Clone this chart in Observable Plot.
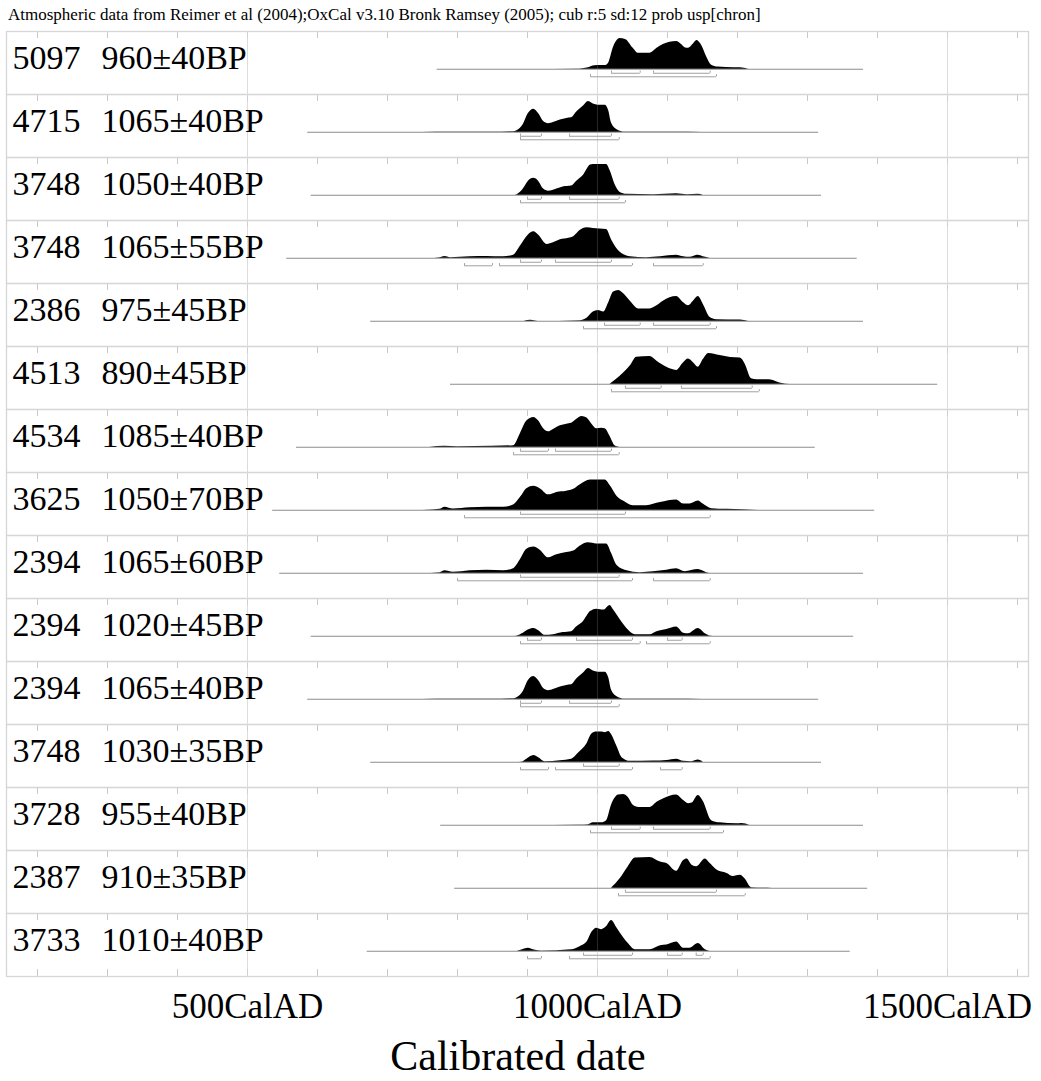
<!DOCTYPE html>
<html><head><meta charset="utf-8">
<script src="https://cdn.jsdelivr.net/npm/d3@7"></script>
<script src="https://cdn.jsdelivr.net/npm/@observablehq/plot@0.6"></script>
<style>
body{margin:0;background:#fff;}
#wrap{position:relative;width:1041px;height:1081px;font-family:"Liberation Serif","Times New Roman",serif;color:#000;}
#title{position:absolute;left:8px;top:6px;font-size:17px;line-height:17px;white-space:nowrap;}
#xlabel{position:absolute;left:0;width:1036px;text-align:center;top:1035px;font-size:42px;line-height:42px;white-space:nowrap;}
</style></head>
<body>
<div id="wrap"><div id="chart"></div>
<div id="title">Atmospheric data from Reimer et al (2004);OxCal v3.10 Bronk Ramsey (2005); cub r:5 sd:12 prob usp[chron]</div>
<div id="xlabel">Calibrated date</div></div>
<script>
// Sample labels
const sampleIds = ["5097","4715","3748","3748","2386","4513","4534","3625","2394","2394","2394","3748","3728","2387","3733"];
const sampleDates = ["960±40BP","1065±40BP","1050±40BP","1065±55BP","975±45BP","890±45BP","1085±40BP","1050±70BP","1065±60BP","1020±45BP","1065±40BP","1030±35BP","955±40BP","910±35BP","1010±40BP"];
// Extent of each calibrated distribution (baseline line), cal AD
const spanStart = [771,586,591,556,676,790,570,536,546,591,586,676,776,796,671];
const spanEnd   = [1380,1316,1320,1371,1380,1486,1311,1396,1380,1366,1316,1320,1380,1386,1361];
// Axis
const axisTicks = [500,1000,1500];
const minorTicks = [200,300,400,500,600,700,800,900,1000,1100,1200,1300,1400,1500,1600];

// Relative probability [year, p] per sample
const prob1 = [[900,0],[975,0.01],[987,0.05],[996,0.11],[1006,0.12],[1012,0.12],[1016,0.2],[1023,0.72],[1032,1.0],[1040,0.97],[1051,0.68],[1058,0.52],[1075,0.52],[1085,0.68],[1094,0.8],[1113,0.9],[1120,0.8],[1125,0.7],[1130,0.68],[1137,0.82],[1142,0.93],[1148,0.8],[1156,0.4],[1163,0.13],[1172,0.07],[1195,0.05],[1204,0.05],[1216,0]];
const prob2 = [[750,0],[790,0.01],[850,0.01],[880,0.02],[885,0.05],[894,0.25],[901,0.6],[909,0.75],[916,0.6],[923,0.35],[930,0.28],[937,0.32],[947,0.4],[956,0.45],[963,0.47],[970,0.65],[980,0.85],[987,1.0],[994,0.92],[1001,0.88],[1011,0.88],[1016,0.7],[1020,0.3],[1028,0.08],[1037,0.01],[1110,0.01],[1150,0]];
const prob3 = [[880,0],[885,0.02],[894,0.2],[901,0.45],[909,0.55],[916,0.45],[923,0.2],[930,0.13],[942,0.2],[951,0.27],[963,0.3],[970,0.45],[980,0.65],[990,0.98],[994,1.0],[1013,1.0],[1018,0.8],[1025,0.35],[1032,0.1],[1042,0.03],[1080,0.02],[1113,0.05],[1128,0.02],[1144,0.03],[1151,0]];
const prob4 = [[760,0],[775,0.02],[782,0.06],[790,0.02],[818,0.05],[842,0.06],[866,0.05],[880,0.1],[890,0.4],[901,0.75],[909,0.86],[916,0.75],[928,0.45],[937,0.5],[947,0.6],[959,0.65],[966,0.7],[975,0.9],[985,0.99],[994,0.97],[1013,0.93],[1020,0.6],[1032,0.2],[1047,0.05],[1070,0.02],[1090,0.05],[1113,0.1],[1123,0.05],[1132,0.03],[1144,0.1],[1151,0.05],[1161,0]];
const prob5 = [[895,0],[905,0.03],[915,0],[975,0.02],[985,0.1],[994,0.3],[1001,0.35],[1009,0.3],[1016,0.6],[1023,0.95],[1030,1.0],[1037,0.9],[1047,0.65],[1059,0.4],[1075,0.4],[1085,0.5],[1094,0.65],[1113,0.8],[1123,0.6],[1130,0.5],[1137,0.65],[1144,0.8],[1151,0.55],[1161,0.12],[1170,0.05],[1204,0.04],[1216,0]];
const prob6 = [[1018,0],[1032,0.25],[1047,0.6],[1056,0.88],[1075,0.9],[1085,0.75],[1099,0.55],[1113,0.45],[1123,0.7],[1130,0.82],[1137,0.7],[1144,0.55],[1151,0.8],[1159,1.0],[1175,0.93],[1190,0.87],[1204,0.85],[1211,0.65],[1220,0.18],[1228,0.15],[1245,0.15],[1251,0.12],[1262,0.03],[1275,0]];
const prob7 = [[760,0],[782,0.03],[800,0.02],[850,0.03],[880,0.05],[890,0.45],[899,0.85],[909,0.97],[916,0.85],[923,0.6],[930,0.5],[937,0.58],[947,0.7],[956,0.75],[963,0.78],[970,0.9],[978,1.0],[985,0.95],[992,0.75],[999,0.6],[1006,0.62],[1011,0.6],[1018,0.35],[1025,0.05],[1032,0]];
const prob8 = [[740,0],[760,0.01],[775,0.03],[782,0.1],[794,0.04],[818,0.08],[842,0.1],[866,0.1],[880,0.17],[890,0.42],[899,0.7],[909,0.78],[918,0.7],[930,0.5],[942,0.58],[956,0.62],[966,0.68],[975,0.82],[990,0.98],[1011,0.98],[1018,0.8],[1028,0.45],[1037,0.3],[1051,0.15],[1070,0.15],[1090,0.25],[1113,0.33],[1123,0.2],[1132,0.2],[1144,0.3],[1151,0.2],[1163,0.05],[1185,0.03],[1209,0.02],[1230,0]];
const prob9 = [[750,0],[775,0.02],[782,0.08],[794,0.03],[818,0.08],[842,0.1],[866,0.08],[880,0.15],[890,0.45],[899,0.78],[909,0.85],[918,0.75],[930,0.5],[942,0.6],[956,0.67],[966,0.72],[975,0.88],[987,0.99],[999,0.95],[1013,0.95],[1020,0.65],[1028,0.25],[1042,0.08],[1061,0.02],[1080,0.05],[1099,0.1],[1113,0.15],[1125,0.05],[1144,0.12],[1156,0.02],[1165,0]];
const prob10 = [[880,0],[885,0.01],[894,0.1],[901,0.2],[909,0.25],[916,0.18],[925,0.03],[937,0.05],[951,0.12],[963,0.15],[970,0.3],[980,0.48],[990,0.8],[999,0.88],[1009,0.85],[1018,1.0],[1023,0.85],[1032,0.55],[1044,0.2],[1054,0.05],[1075,0.05],[1085,0.15],[1099,0.22],[1113,0.3],[1123,0.1],[1130,0.08],[1144,0.25],[1154,0.08],[1161,0.01],[1170,0]];
const prob11 = [[750,0],[790,0.01],[850,0.01],[880,0.02],[885,0.05],[894,0.25],[901,0.6],[909,0.74],[916,0.6],[923,0.35],[930,0.28],[937,0.32],[947,0.4],[956,0.45],[963,0.47],[970,0.65],[980,0.85],[987,1.0],[994,0.92],[1001,0.88],[1011,0.88],[1016,0.7],[1020,0.3],[1028,0.08],[1037,0.01],[1110,0.01],[1150,0]];
const prob12 = [[885,0],[892,0.01],[899,0.1],[909,0.22],[916,0.15],[925,0.02],[947,0.05],[963,0.1],[973,0.3],[985,0.6],[992,0.92],[999,0.98],[1006,0.98],[1011,0.96],[1016,1.0],[1020,0.9],[1028,0.5],[1035,0.15],[1047,0.03],[1080,0.04],[1099,0.06],[1113,0.1],[1123,0.03],[1135,0.02],[1144,0.07],[1151,0]];
const prob13 = [[900,0],[975,0.01],[987,0.02],[994,0.08],[1006,0.08],[1013,0.15],[1020,0.65],[1030,0.98],[1037,1.0],[1044,0.9],[1051,0.65],[1059,0.58],[1075,0.58],[1085,0.75],[1094,0.85],[1113,0.98],[1123,0.8],[1130,0.7],[1135,0.72],[1144,0.97],[1151,0.78],[1163,0.15],[1175,0.08],[1199,0.05],[1206,0.06],[1218,0]];
const prob14 = [[1020,0],[1032,0.3],[1044,0.7],[1054,0.98],[1075,1.0],[1090,0.85],[1099,0.8],[1113,0.55],[1123,0.9],[1128,0.95],[1135,0.75],[1142,0.7],[1154,0.95],[1161,0.8],[1170,0.6],[1185,0.48],[1194,0.38],[1204,0.42],[1211,0.3],[1220,0.02],[1250,0]];
const prob15 = [[885,0],[894,0.06],[901,0.1],[911,0.03],[920,0.01],[963,0.05],[975,0.15],[985,0.3],[992,0.62],[999,0.75],[1006,0.7],[1013,0.8],[1020,1.0],[1028,0.75],[1037,0.45],[1044,0.25],[1054,0.05],[1075,0.05],[1090,0.18],[1099,0.2],[1113,0.3],[1123,0.1],[1132,0.1],[1144,0.25],[1154,0.05],[1161,0]];

// 68.2% and 95.4% ranges per sample
const range68 = [
  [[1020,1061],[1080,1161]],
  [[890,920],[960,1020]],
  [[900,920],[960,1031]],
  [[890,920],[940,1020]],
  [[1010,1061],[1080,1161]],
  [[1040,1091],[1120,1221]],
  [[890,930],[940,1020]],
  [[890,1040]],
  [[890,1031]],
  [[900,920],[970,1050],[1100,1121]],
  [[890,920],[960,1020]],
  [[980,1031]],
  [[1020,1061],[1080,1161]],
  [[1040,1170]],
  [[980,1050],[1100,1121],[1141,1151]]
];
const range95 = [
  [[990,1170]],
  [[890,1031]],
  [[890,1040]],
  [[810,850],[860,1050],[1080,1151]],
  [[980,1170]],
  [[1020,1231]],
  [[880,1031]],
  [[810,1161]],
  [[800,1050],[1080,1161]],
  [[890,1061],[1070,1161]],
  [[890,1031]],
  [[890,930],[940,1050],[1090,1121]],
  [[990,1180]],
  [[1030,1211]],
  [[900,920],[960,1161]]
];

const probs = [prob1,prob2,prob3,prob4,prob5,prob6,prob7,prob8,prob9,prob10,prob11,prob12,prob13,prob14,prob15];
const rows = sampleIds.map((id, i) => ({row: i, id, date: sampleDates[i], start: spanStart[i], end: spanEnd[i]}));
const areaData = probs.flatMap((arr, i) => arr.map(([year, p]) => ({row: i, year, p})));
const Y_TOP = 1.226, Y_BOT = -0.82, TICK = 0.226;
const Y68 = -0.13, Y95 = -0.245, BR = 0.07;
const brackets = [
  ...range68.flatMap((rs, i) => rs.map(([lo, hi]) => ({row: i, lo, hi, y: Y68}))),
  ...range95.flatMap((rs, i) => rs.map(([lo, hi]) => ({row: i, lo, hi, y: Y95})))
];
const bracketEnds = brackets.flatMap(b => [{row: b.row, x: b.lo, y: b.y}, {row: b.row, x: b.hi, y: b.y}]);
const lastRow = sampleIds.length - 1;
const grid = "#d6d6d6";

const chart = Plot.plot({
  width: 1041, height: 1081,
  marginLeft: 6, marginRight: 13, marginTop: 28, marginBottom: 102,
  style: {fontFamily: "'Liberation Serif', 'Times New Roman', serif", background: "#fff"},
  x: {domain: [155.7, 1615.7]},
  y: {domain: [Y_BOT, Y_TOP], axis: null},
  fy: {domain: d3.range(sampleIds.length), padding: 0, axis: null},
  marks: [
    Plot.ruleX(axisTicks, {stroke: grid, strokeWidth: 1}),
    Plot.ruleX(minorTicks, {x: d => d, y1: Y_TOP, y2: Y_TOP - TICK, stroke: "#c8c8c8"}),
    Plot.ruleX(minorTicks.map(t => ({x: t, row: lastRow})), {x: "x", fy: "row", y1: Y_BOT, y2: Y_BOT + TICK, stroke: "#c8c8c8"}),
    Plot.frame({stroke: grid, strokeWidth: 1.3}),
    Plot.ruleY(rows, {fy: "row", y: 0, x1: "start", x2: "end", stroke: "#8c8c8c", strokeWidth: 1.2}),
    Plot.areaY(areaData, {fy: "row", x: "year", y: "p", curve: "monotone-x", fill: "#000"}),
    Plot.ruleX(axisTicks, {stroke: "#fff", strokeOpacity: 0.15, strokeWidth: 1}),
    Plot.ruleY(brackets, {fy: "row", y: "y", x1: "lo", x2: "hi", stroke: "#a0a0a0", strokeWidth: 1}),
    Plot.ruleX(bracketEnds, {fy: "row", x: "x", y1: "y", y2: d => d.y + BR, stroke: "#a0a0a0", strokeWidth: 1}),
    Plot.text(rows, {fy: "row", text: "id", frameAnchor: "left", dx: 6, y: 0, lineAnchor: "bottom", textAnchor: "start", fontSize: 34, fill: "#000"}),
    Plot.text(rows, {fy: "row", text: "date", frameAnchor: "left", dx: 95, y: 0, lineAnchor: "bottom", textAnchor: "start", fontSize: 34, fill: "#000"}),
    Plot.axisX(axisTicks, {tickSize: 0, tickPadding: 17, fontSize: 35, tickFormat: d => d + "CalAD", label: null, fill: "#000"})
  ]
});
document.getElementById("chart").appendChild(chart);
</script>
</body></html>
